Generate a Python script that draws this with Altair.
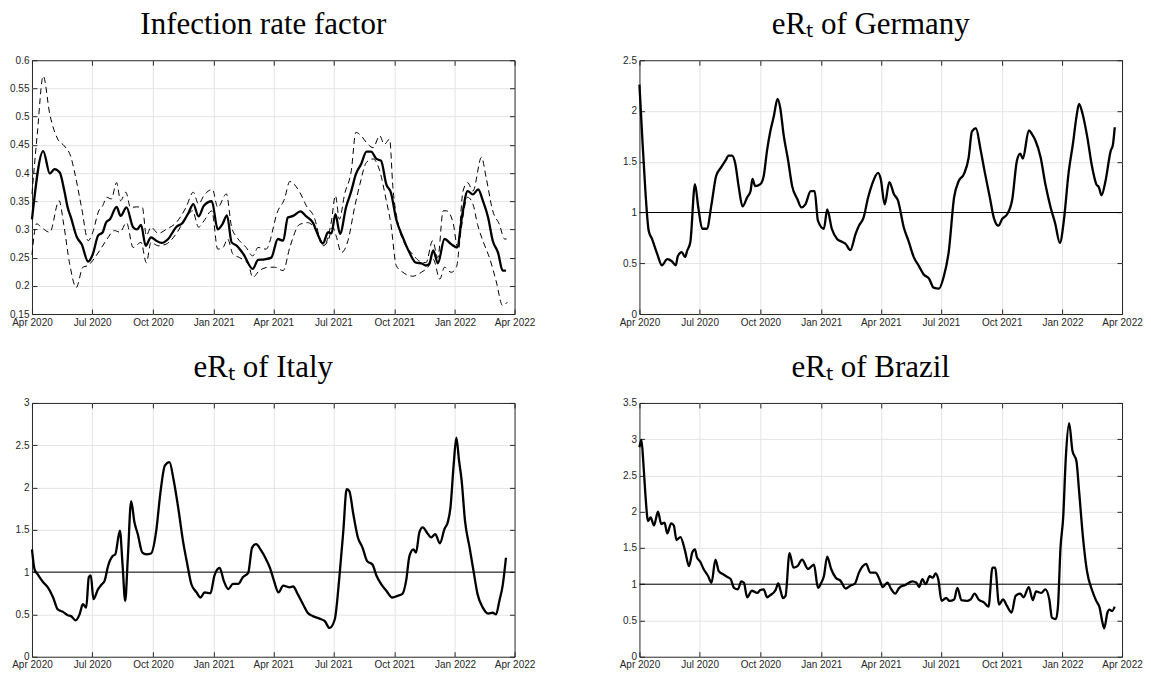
import altair as alt
import pandas as pd

BASE = "2020-04-01"

# x tick labels (quarterly)
x_ticks = ["2020-04-01", "2020-07-01", "2020-10-01", "2021-01-01", "2021-04-01",
           "2021-07-01", "2021-10-01", "2022-01-01", "2022-04-01"]

# ---------------- Infection rate factor (days since 2020-04-01) ----------------
irf_mid_days = [0, 17, 27, 34, 42, 49, 54, 59, 68, 75, 85, 92, 100, 107, 112, 118, 128, 134, 143, 153,
                159, 165, 172, 180, 188, 196, 206, 218, 228, 237, 244, 252, 260, 272, 281, 288, 295, 302,
                310, 320, 334, 342, 352, 362, 372, 380, 387, 395, 406, 415, 425, 432, 440, 448, 453, 459,
                466, 475, 483, 490, 498, 506, 513, 521, 528, 536, 543, 551, 561, 571, 581, 589, 596, 601,
                607, 614, 624, 634, 643, 651, 659, 667, 675, 682, 690, 697, 705, 712, 717]
irf_mid = [0.318, 0.439, 0.399, 0.407, 0.401, 0.368, 0.339, 0.321, 0.286, 0.274, 0.243, 0.256, 0.289,
           0.295, 0.312, 0.318, 0.340, 0.324, 0.339, 0.304, 0.300, 0.308, 0.271, 0.286, 0.280, 0.276,
           0.283, 0.304, 0.312, 0.330, 0.345, 0.323, 0.342, 0.350, 0.300, 0.309, 0.325, 0.277, 0.271,
           0.256, 0.230, 0.246, 0.247, 0.250, 0.283, 0.280, 0.321, 0.324, 0.332, 0.323, 0.312, 0.292,
           0.275, 0.295, 0.293, 0.327, 0.292, 0.339, 0.368, 0.398, 0.416, 0.438, 0.438, 0.425, 0.422,
           0.380, 0.365, 0.318, 0.286, 0.259, 0.241, 0.240, 0.236, 0.239, 0.263, 0.240, 0.283, 0.274,
           0.268, 0.327, 0.368, 0.362, 0.371, 0.351, 0.321, 0.280, 0.259, 0.227, 0.227]

irf_up_days = [0, 8, 17, 27, 39, 49, 59, 64, 75, 85, 92, 101, 107, 113, 120, 128, 134, 142, 149, 158,
               167, 173, 180, 191, 203, 218, 233, 244, 252, 260, 273, 281, 294, 302, 310, 324, 334, 342,
               354, 372, 382, 390, 405, 415, 428, 435, 443, 453, 459, 465, 473, 483, 490, 498, 506, 516,
               526, 533, 541, 546, 554, 564, 576, 586, 596, 606, 614, 622, 627, 637, 644, 652, 659, 667,
               680, 687, 697, 707, 715, 718]
irf_up = [0.363, 0.469, 0.572, 0.504, 0.460, 0.448, 0.428, 0.404, 0.339, 0.280, 0.295, 0.333, 0.342,
          0.357, 0.354, 0.383, 0.351, 0.366, 0.339, 0.340, 0.339, 0.289, 0.304, 0.293, 0.300, 0.312,
          0.339, 0.366, 0.345, 0.360, 0.371, 0.339, 0.363, 0.304, 0.286, 0.268, 0.253, 0.268, 0.265,
          0.333, 0.354, 0.385, 0.366, 0.342, 0.318, 0.286, 0.274, 0.315, 0.360, 0.318, 0.363, 0.404,
          0.472, 0.466, 0.454, 0.445, 0.466, 0.451, 0.460, 0.374, 0.309, 0.274, 0.256, 0.244, 0.241,
          0.280, 0.250, 0.333, 0.333, 0.312, 0.268, 0.368, 0.383, 0.368, 0.428, 0.392, 0.333, 0.309,
          0.283, 0.283]

irf_lo_days = [0, 7, 14, 27, 41, 48, 57, 67, 77, 85, 92, 102, 112, 125, 133, 143, 153, 165, 173, 180,
               191, 203, 218, 233, 243, 252, 260, 272, 281, 289, 296, 304, 314, 327, 334, 344, 359, 367,
               380, 390, 405, 417, 430, 440, 448, 455, 460, 468, 478, 488, 496, 506, 516, 526, 536, 543,
               551, 561, 576, 589, 599, 607, 617, 624, 634, 642, 649, 659, 667, 674, 685, 692, 702, 712,
               719]
irf_lo = [0.255, 0.310, 0.304, 0.295, 0.351, 0.309, 0.239, 0.197, 0.233, 0.236, 0.245, 0.262, 0.280,
          0.298, 0.295, 0.312, 0.268, 0.277, 0.241, 0.277, 0.271, 0.274, 0.292, 0.321, 0.333, 0.304,
          0.315, 0.333, 0.265, 0.268, 0.283, 0.256, 0.250, 0.239, 0.215, 0.227, 0.233, 0.233, 0.227,
          0.268, 0.309, 0.312, 0.298, 0.271, 0.280, 0.304, 0.289, 0.259, 0.280, 0.339, 0.380, 0.419,
          0.425, 0.404, 0.351, 0.309, 0.236, 0.224, 0.217, 0.224, 0.233, 0.247, 0.212, 0.233, 0.224,
          0.233, 0.298, 0.357, 0.345, 0.309, 0.271, 0.250, 0.209, 0.165, 0.171]

# ---------------- eR_t of Germany ----------------
de_days = [0, 4, 9, 14, 19, 27, 34, 42, 49, 55, 58, 64, 69, 72, 77, 84, 89, 95, 102, 109, 116, 123,
           130, 135, 140, 145, 150, 156, 163, 168, 171, 175, 183, 188, 193, 198, 203, 209, 213, 218,
           225, 231, 239, 245, 251, 259, 265, 270, 279, 284, 291, 299, 307, 312, 319, 327, 332, 339,
           346, 352, 361, 365, 371, 378, 385, 391, 400, 407, 415, 423, 430, 438, 445, 453, 460, 468,
           476, 483, 491, 498, 503, 509, 516, 522, 530, 536, 543, 549, 556, 564, 571, 576, 580, 589,
           594, 599, 607, 614, 622, 629, 636, 642, 649, 656, 661, 665, 670, 677, 685, 691, 695, 699,
           705, 713, 716, 719]
de_vals = [2.26, 1.77, 1.21, 0.82, 0.74, 0.59, 0.48, 0.54, 0.52, 0.48, 0.57, 0.61, 0.56, 0.62, 0.71,
           1.28, 1.05, 0.84, 0.84, 1.08, 1.36, 1.44, 1.51, 1.56, 1.56, 1.48, 1.26, 1.06, 1.15, 1.21,
           1.33, 1.26, 1.28, 1.36, 1.61, 1.80, 1.94, 2.12, 2.03, 1.77, 1.51, 1.26, 1.13, 1.05, 1.08,
           1.21, 1.21, 0.92, 0.84, 1.03, 0.84, 0.74, 0.71, 0.69, 0.63, 0.79, 0.87, 0.95, 1.15, 1.28,
           1.39, 1.33, 1.08, 1.30, 1.18, 1.12, 0.85, 0.72, 0.56, 0.47, 0.39, 0.35, 0.26, 0.25, 0.36,
           0.62, 1.15, 1.31, 1.38, 1.54, 1.80, 1.83, 1.62, 1.41, 1.15, 0.95, 0.87, 0.94, 0.98, 1.13,
           1.51, 1.58, 1.53, 1.81, 1.77, 1.71, 1.54, 1.28, 1.05, 0.89, 0.70, 0.92, 1.38, 1.69, 1.94,
           2.07, 1.98, 1.76, 1.44, 1.28, 1.25, 1.17, 1.31, 1.61, 1.66, 1.84]

# ---------------- eR_t of Italy ----------------
it_days = [0, 4, 9, 17, 24, 32, 39, 47, 54, 59, 66, 72, 77, 82, 86, 89, 93, 100, 105, 110, 115, 122,
           126, 133, 137, 141, 145, 150, 155, 160, 167, 173, 180, 188, 194, 201, 208, 214, 222, 228,
           235, 241, 249, 255, 261, 270, 276, 284, 290, 297, 304, 312, 319, 327, 333, 339, 347, 353,
           360, 366, 373, 380, 390, 395, 402, 410, 417, 425, 435, 443, 450, 458, 465, 471, 476, 480,
           486, 493, 500, 507, 515, 521, 528, 536, 545, 553, 560, 566, 571, 577, 581, 586, 591, 599,
           604, 610, 617, 624, 629, 633, 638, 642, 646, 650, 655, 662, 668, 674, 682, 690, 697, 702,
           707, 712, 717]
it_vals = [1.27, 1.03, 0.97, 0.88, 0.82, 0.70, 0.56, 0.53, 0.49, 0.48, 0.43, 0.50, 0.62, 0.58, 0.94,
           0.96, 0.68, 0.80, 0.85, 0.90, 1.07, 1.19, 1.21, 1.49, 1.09, 0.66, 1.17, 1.84, 1.59, 1.45,
           1.23, 1.21, 1.22, 1.49, 1.92, 2.26, 2.30, 2.10, 1.72, 1.39, 1.09, 0.86, 0.76, 0.70, 0.76,
           0.75, 0.96, 1.05, 0.90, 0.80, 0.86, 0.86, 0.94, 0.99, 1.29, 1.33, 1.25, 1.17, 1.05, 0.90,
           0.76, 0.84, 0.82, 0.83, 0.74, 0.62, 0.52, 0.48, 0.45, 0.42, 0.34, 0.44, 0.94, 1.49, 1.98,
           1.96, 1.69, 1.41, 1.29, 1.13, 1.09, 0.96, 0.86, 0.78, 0.70, 0.72, 0.74, 0.90, 1.19, 1.27,
           1.23, 1.47, 1.53, 1.45, 1.41, 1.45, 1.34, 1.51, 1.59, 1.76, 2.28, 2.59, 2.32, 2.08, 1.61,
           1.29, 1.01, 0.74, 0.58, 0.51, 0.52, 0.50, 0.66, 0.84, 1.17]

# ---------------- eR_t of Brazil ----------------
br_days = [0, 3, 6, 9, 13, 17, 22, 28, 33, 38, 42, 48, 52, 56, 62, 69, 75, 80, 84, 87, 92, 97, 104,
           109, 115, 120, 126, 133, 138, 143, 149, 154, 158, 163, 170, 178, 183, 188, 193, 198, 206,
           210, 213, 217, 221, 227, 233, 239, 246, 255, 264, 270, 275, 279, 284, 290, 297, 304, 312,
           319, 326, 332, 338, 343, 349, 357, 363, 368, 375, 381, 387, 393, 402, 413, 419, 423, 428,
           433, 439, 444, 448, 452, 457, 464, 469, 476, 481, 487, 496, 501, 507, 513, 521, 528, 534,
           538, 544, 550, 556, 563, 569, 576, 581, 589, 595, 600, 608, 614, 620, 624, 630, 633, 637,
           641, 645, 650, 655, 661, 665, 671, 677, 685, 691, 696, 700, 703, 708, 711, 715, 719]
br_vals = [2.89, 2.99, 2.66, 2.24, 1.87, 1.92, 1.81, 2.00, 1.83, 1.85, 1.70, 1.84, 1.81, 1.61, 1.65,
           1.46, 1.25, 1.44, 1.48, 1.37, 1.31, 1.21, 1.11, 1.02, 1.34, 1.18, 1.14, 1.10, 1.07, 0.95,
           0.93, 1.04, 1.02, 0.82, 0.91, 0.88, 0.92, 0.93, 0.82, 0.85, 0.92, 1.01, 0.93, 0.81, 0.84,
           1.43, 1.23, 1.25, 1.34, 1.21, 1.27, 0.95, 1.02, 1.11, 1.38, 1.21, 1.09, 1.05, 0.94, 0.98,
           1.01, 1.16, 1.25, 1.28, 1.16, 1.16, 1.07, 0.96, 1.02, 0.93, 0.87, 0.95, 0.99, 1.04, 1.02,
           0.96, 1.07, 1.00, 1.11, 1.09, 1.15, 1.07, 0.77, 0.81, 0.77, 0.79, 0.95, 0.78, 0.77, 0.79,
           0.87, 0.79, 0.75, 0.69, 1.23, 1.23, 0.72, 0.79, 0.70, 0.61, 0.84, 0.87, 0.82, 0.96, 0.78,
           0.90, 0.88, 0.93, 0.79, 0.54, 0.52, 0.68, 1.51, 1.92, 2.75, 3.22, 2.84, 2.70, 2.29, 1.64,
           1.18, 0.91, 0.77, 0.68, 0.49, 0.39, 0.61, 0.65, 0.63, 0.69]

# y ticks per panel
irf_yticks = [0.15, 0.2, 0.25, 0.3, 0.35, 0.4, 0.45, 0.5, 0.55, 0.6]
de_yticks = [0, 0.5, 1, 1.5, 2, 2.5]
it_yticks = [0, 0.5, 1, 1.5, 2, 2.5, 3]
br_yticks = [0, 0.5, 1, 1.5, 2, 2.5, 3, 3.5]

# ------------------------------------------------------------------
base_ts = pd.Timestamp(BASE)


def frame(days, vals):
    return pd.DataFrame({
        "date": [(base_ts + pd.Timedelta(days=int(d))).strftime("%Y-%m-%d") for d in days],
        "v": vals,
    })


def to_ms(s):
    return int(pd.Timestamp(s, tz="UTC").value // 10**6)


XDOM = [to_ms(x_ticks[0]), to_ms(x_ticks[-1])]
XVALS = [to_ms(s) for s in x_ticks]

INK = "#262626"
W, H = 483, 254

common_axis = dict(domain=False, ticks=True, tickSize=5, offset=-5, tickColor=INK, tickWidth=1,
                   title=None, labelFont="Liberation Sans", labelFontSize=10, labelColor=INK,
                   labelPadding=3, gridColor="#e4e4e4", gridWidth=1)


def edge_hidden(lo, hi):
    # hide the grid line that would otherwise paint over the dark frame
    return {"condition": {"test": f"datum.value <= {lo} || datum.value >= {hi}", "value": 0},
            "value": 1}


def xscale():
    return alt.Scale(type="utc", domain=XDOM, nice=False)


def yscale(dom):
    return alt.Scale(domain=dom, nice=False, zero=False)


def panel(title, dom, yticks, lines, rule_at_one):
    layers = []
    main_df, main_style = lines[0]
    layers.append(
        alt.Chart(main_df).mark_line(interpolate="monotone", **main_style).encode(
            x=alt.X("date:T", scale=xscale(),
                    axis=alt.Axis(orient="bottom", values=XVALS,
                                  labelExpr="utcFormat(datum.value, '%b %Y')",
                                  grid=True, gridOpacity=edge_hidden(XDOM[0], XDOM[1]),
                                  labelFlush=False, labelOverlap=False, **common_axis)),
            y=alt.Y("v:Q", scale=yscale(dom),
                    axis=alt.Axis(orient="left", values=yticks, format="~g", grid=True,
                                  gridOpacity=edge_hidden(dom[0], dom[1]),
                                  labelOverlap=False, **common_axis)),
        )
    )
    for df, style in lines[1:]:
        layers.append(
            alt.Chart(df).mark_line(interpolate="monotone", **style).encode(
                x=alt.X("date:T", scale=xscale(), axis=None),
                y=alt.Y("v:Q", scale=yscale(dom), axis=None),
            )
        )
    if rule_at_one:
        layers.append(
            alt.Chart(pd.DataFrame({"v": [1]})).mark_rule(color="black", strokeWidth=1).encode(
                y=alt.Y("v:Q", scale=yscale(dom), axis=None)
            )
        )
    # invisible layer carrying the mirrored top / right tick marks
    layers.append(
        alt.Chart(main_df).mark_line(opacity=0).encode(
            x=alt.X("date:T", scale=xscale(),
                    axis=alt.Axis(orient="top", values=XVALS, labels=False, grid=False, **common_axis)),
            y=alt.Y("v:Q", scale=yscale(dom),
                    axis=alt.Axis(orient="right", values=yticks, labels=False, grid=False, **common_axis)),
        )
    )
    return alt.layer(*layers).resolve_axis(x="independent", y="independent").properties(
        width=W, height=H,
        title=alt.Title(title, font="Liberation Serif", fontSize=31, fontWeight="normal",
                        color="black", offset=-10, baseline="alphabetic", anchor="middle", dx=-10),
    )


solid = dict(color="black", strokeWidth=2.3)
dashed = dict(color="black", strokeWidth=1, strokeDash=[6, 4])

p1 = panel("Infection rate factor", [0.15, 0.6], irf_yticks,
           [(frame(irf_mid_days, irf_mid), solid),
            (frame(irf_up_days, irf_up), dashed),
            (frame(irf_lo_days, irf_lo), dashed)], False)
p2 = panel("eRₜ of Germany", [0, 2.5], de_yticks, [(frame(de_days, de_vals), solid)], True)
p3 = panel("eRₜ of Italy", [0, 3], it_yticks, [(frame(it_days, it_vals), solid)], True)
p4 = panel("eRₜ of Brazil", [0, 3.5], br_yticks, [(frame(br_days, br_vals), solid)], True)

chart = alt.concat(
    p1, p2, p3, p4, columns=2,
    spacing=alt.RowColnumber(row=89, column=125),
    bounds="flush",
).properties(
    padding={"left": 1, "top": 0, "right": 0, "bottom": 0},
    background="white",
).configure_view(
    stroke=INK, strokeWidth=1
)

chart.save("out.html", embed_options={"renderer": "svg", "actions": False})
